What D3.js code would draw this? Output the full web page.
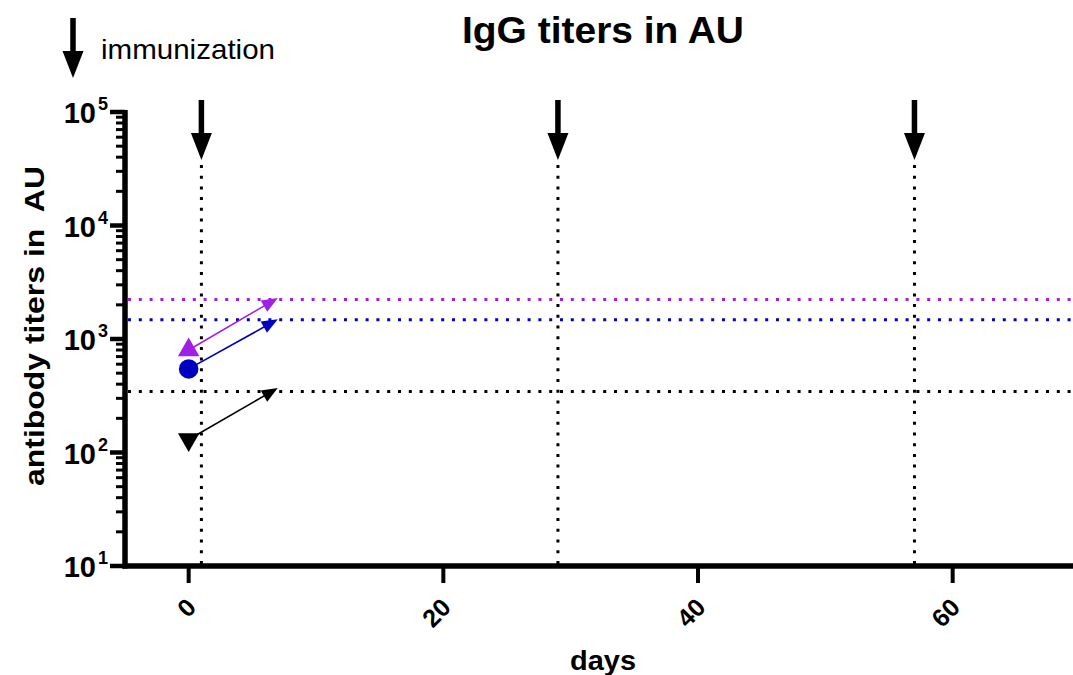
<!DOCTYPE html>
<html>
<head>
<meta charset="utf-8">
<script src="https://cdn.jsdelivr.net/npm/d3@7"></script>
<style>
  html, body { margin: 0; padding: 0; background: #fff; }
  svg { display: block; font-family: "Liberation Sans", Arial, sans-serif; }
</style>
</head>
<body>
<svg id="chart" width="1073" height="675"></svg>
<script>
// ---- data ----
const seriesNames = ["purple group", "blue group", "black group"];
const seriesColors = ["#a01fe6", "#0000c0", "#000000"];
const seriesSymbols = ["triangle-up", "circle", "triangle-down"];
const startDays = [0, 0, 0];
const startValues = [800, 545, 130];
const endDays = [7, 7, 7];
const endValues = [2300, 1490, 370];
const thresholdValues = [2230, 1480, 345];
const immunizationDays = [1, 29, 57];
const xTickValues = [0, 20, 40, 60];
const yTickExponents = [1, 2, 3, 4, 5];

// ---- layout ----
const svg = d3.select("#chart");
const x = d3.scaleLinear().domain([-5, 70]).range([125, 1080]);
const y = d3.scaleLog().domain([10, 1e5]).range([566, 112]);
const x0 = x.range()[0], yBottom = y.range()[0], yTop = y.range()[1];

// title
svg.append("text").attr("x", 603).attr("y", 43).attr("text-anchor", "middle")
  .attr("font-size", 37).attr("font-weight", "bold")
  .attr("textLength", 282).attr("lengthAdjust", "spacingAndGlyphs").text("IgG titers in AU");

// legend
function downArrow(g, cx, yStart, yTip) {
  const headLen = 27, headW = 21, shaftW = 5.5;
  g.append("rect").attr("x", cx - shaftW / 2).attr("y", yStart)
    .attr("width", shaftW).attr("height", yTip - headLen - yStart + 2).attr("fill", "#000");
  g.append("path").attr("d", `M${cx - headW / 2},${yTip - headLen} L${cx + headW / 2},${yTip - headLen} L${cx},${yTip} Z`)
    .attr("fill", "#000");
}
const legend = svg.append("g");
downArrow(legend, 73, 18, 78);
legend.append("text").attr("x", 101).attr("y", 59).attr("font-size", 28)
  .attr("textLength", 174).attr("lengthAdjust", "spacingAndGlyphs").text("immunization");

// horizontal dotted threshold lines
svg.append("g").selectAll("line").data(thresholdValues).join("line")
  .attr("x1", x0 + 3).attr("x2", 1073)
  .attr("y1", d => y(d)).attr("y2", d => y(d))
  .attr("stroke", (d, i) => seriesColors[i]).attr("stroke-width", 3)
  .attr("stroke-dasharray", "3 7.8");

// vertical dotted immunization lines + arrows
const imm = svg.append("g");
imm.selectAll("line").data(immunizationDays).join("line")
  .attr("x1", d => x(d)).attr("x2", d => x(d))
  .attr("y1", 165).attr("y2", yBottom)
  .attr("stroke", "#000").attr("stroke-width", 3).attr("stroke-dasharray", "3 7.7");
immunizationDays.forEach(d => downArrow(imm, x(d), 100, 160));

// axes
const yAxisG = svg.append("g");
const minor = [];
for (let e = 1; e < 5; e++) for (let m = 2; m <= 9; m++) minor.push(m * Math.pow(10, e));
yAxisG.selectAll("line.minor").data(minor).join("line").attr("class", "minor")
  .attr("x1", x0 - 9).attr("x2", x0).attr("y1", d => y(d)).attr("y2", d => y(d))
  .attr("stroke", "#000").attr("stroke-width", 3);
yAxisG.selectAll("line.major").data(yTickExponents).join("line").attr("class", "major")
  .attr("x1", x0 - 15).attr("x2", x0).attr("y1", d => y(Math.pow(10, d))).attr("y2", d => y(Math.pow(10, d)))
  .attr("stroke", "#000").attr("stroke-width", 4.5);
yAxisG.append("line").attr("x1", x0).attr("x2", x0).attr("y1", yTop - 2).attr("y2", yBottom + 2.5)
  .attr("stroke", "#000").attr("stroke-width", 5.5);
const yl = yAxisG.selectAll("text").data(yTickExponents).join("text")
  .attr("x", 108).attr("y", d => y(Math.pow(10, d)) + 11)
  .attr("text-anchor", "end").attr("font-weight", "bold").attr("font-size", 29);
yl.append("tspan").text("10");
yl.append("tspan").attr("dy", -13).attr("dx", 2).attr("font-size", 18).text(d => d);

// x axis
const xAxisG = svg.append("g");
xAxisG.append("line").attr("x1", x0 - 2.5).attr("x2", 1073).attr("y1", yBottom).attr("y2", yBottom)
  .attr("stroke", "#000").attr("stroke-width", 5.5);
xAxisG.selectAll("line.tick").data(xTickValues).join("line").attr("class", "tick")
  .attr("x1", d => x(d)).attr("x2", d => x(d)).attr("y1", yBottom).attr("y2", yBottom + 17)
  .attr("stroke", "#000").attr("stroke-width", 4);
xAxisG.selectAll("text").data(xTickValues).join("text")
  .attr("transform", d => `translate(${x(d) + 9},${609}) rotate(-45)`)
  .attr("text-anchor", "end").attr("font-weight", "bold").attr("font-size", 25)
  .text(d => d);

// axis titles
svg.append("text").attr("x", 603).attr("y", 670).attr("text-anchor", "middle")
  .attr("font-weight", "bold").attr("font-size", 28).attr("textLength", 66)
  .attr("lengthAdjust", "spacingAndGlyphs").text("days");
svg.append("text").attr("transform", "translate(44,326) rotate(-90)").attr("text-anchor", "middle")
  .attr("font-weight", "bold").attr("font-size", 27).attr("xml:space", "preserve")
  .attr("textLength", 320).attr("lengthAdjust", "spacingAndGlyphs")
  .style("white-space", "pre").text("antibody titers in  AU");

// data: arrows from day-0 value to later value
const dataG = svg.append("g");
seriesNames.forEach((name, i) => {
  const xs = x(startDays[i]), ys = y(startValues[i]);
  const xe = x(endDays[i]), ye = y(endValues[i]);
  const ang = Math.atan2(ye - ys, xe - xs);
  const L = 16, W = 13;
  const bx = xe - L * Math.cos(ang), by = ye - L * Math.sin(ang);
  const px = -Math.sin(ang) * W / 2, py = Math.cos(ang) * W / 2;
  dataG.append("line").attr("x1", xs).attr("y1", ys).attr("x2", bx + L * 0.2 * Math.cos(ang)).attr("y2", by + L * 0.2 * Math.sin(ang))
    .attr("stroke", seriesColors[i]).attr("stroke-width", 1.6);
  dataG.append("path").attr("d", `M${xe},${ye} L${bx + px},${by + py} L${bx - px},${by - py} Z`)
    .attr("fill", seriesColors[i]);
  let sym, rot = 0;
  if (seriesSymbols[i] === "circle") sym = d3.symbol(d3.symbolCircle, 300);
  else { sym = d3.symbol(d3.symbolTriangle, 200); if (seriesSymbols[i] === "triangle-down") rot = 180; }
  dataG.append("path").attr("d", sym()).attr("transform", `translate(${xs},${ys}) rotate(${rot})`)
    .attr("fill", seriesColors[i]);
});
</script>
</body>
</html>
